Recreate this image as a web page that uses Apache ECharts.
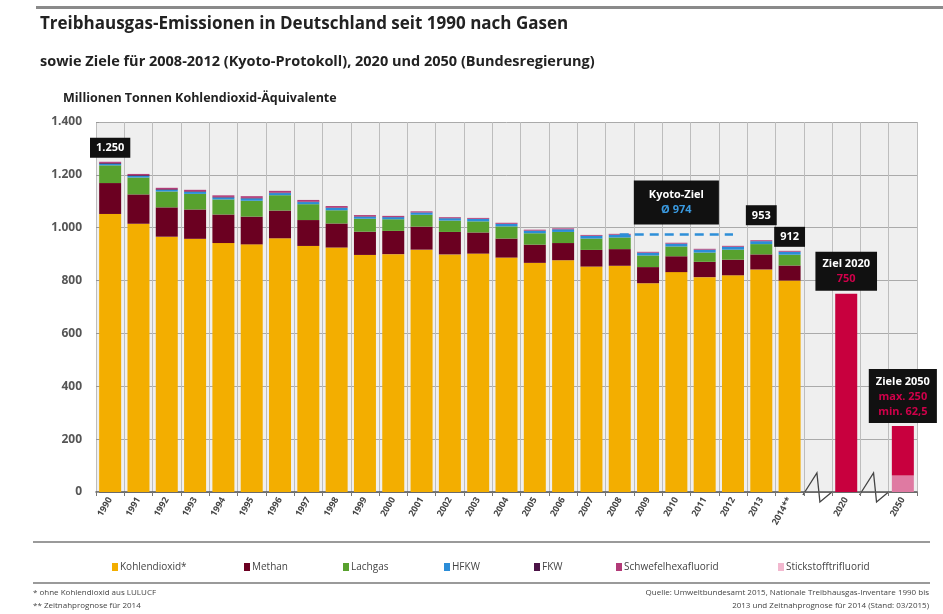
<!DOCTYPE html>
<html>
<head>
<meta charset="utf-8">
<script src="https://cdn.jsdelivr.net/npm/echarts@6/dist/echarts.min.js"></script>
<style>
  html, body { margin: 0; padding: 0; background: #fff; }
  #chart { width: 943px; height: 614px; }
</style>
</head>
<body>
<div id="chart"></div>
<script>
// Jahre (Ist-Werte), danach Lücke + Zieljahre
const years = ['1990', '1991', '1992', '1993', '1994', '1995', '1996', '1997', '1998', '1999',
  '2000', '2001', '2002', '2003', '2004', '2005', '2006', '2007', '2008', '2009',
  '2010', '2011', '2012', '2013', '2014**']
const categories = years.concat(['gap1', '2020', 'gap2', '2050'])

// Mio. t CO2-Äquivalente
const kohlendioxid = [1052, 1015, 966, 958, 942, 937, 960, 931, 925, 897, 900, 917, 899, 902, 887, 867, 877, 853, 856, 790, 832, 813, 820, 842, 800]
const methan = [117, 111, 111, 111, 108, 105, 105, 98, 91, 88, 88, 87, 85, 80, 72, 69, 65, 63, 63, 61, 60, 58, 59, 57, 57]
const lachgas = [67, 64, 60, 59, 57, 60, 58, 60, 50, 49, 44, 45, 43, 42, 46, 43, 42, 43, 44, 44, 37, 35, 38, 39, 41]
const hfkw = [6.0, 6.1, 6.3, 7.6, 7.5, 9.0, 8.0, 8.0, 8.5, 7.5, 7.8, 8.3, 8.6, 9.0, 9.2, 9.5, 9.8, 10.0, 10.2, 10.4, 10.6, 10.7, 10.8, 11.0, 11.0]
const fkw = [3.1, 2.8, 2.6, 2.3, 2.0, 1.8, 1.9, 1.8, 1.9, 1.6, 0.9, 0.8, 0.8, 0.8, 0.8, 0.7, 0.6, 0.6, 0.5, 0.3, 0.3, 0.3, 0.3, 0.2, 0.2]
const schwefelhexafluorid = [4.4, 4.6, 5.1, 5.5, 6.0, 6.5, 6.6, 6.3, 5.6, 4.7, 4.1, 3.8, 3.3, 3.3, 3.7, 3.4, 3.2, 3.1, 3.1, 3.1, 3.2, 3.2, 3.3, 3.4, 3.3]
const stickstofftrifluorid = [0.01, 0.01, 0.01, 0.01, 0.01, 0.01, 0.01, 0.01, 0.01, 0.02, 0.02, 0.02, 0.03, 0.03, 0.04, 0.05, 0.06, 0.07, 0.08, 0.08, 0.08, 0.07, 0.06, 0.06, 0.06]

// Summenlabels über einzelnen Balken
const totalLabels = { 0: '1.250', 23: '953', 24: '912' }

// Ziele
const kyotoZiel = 974
const ziel2020 = 750
const ziel2050Max = 250
const ziel2050Min = 62.5

const yTicks = [0, 200, 400, 600, 800, 1000, 1200, 1400]

const gasColors = ['#f3ae00', '#6b0021', '#58a12e', '#2b8dd8', '#4b1346', '#b23a78', '#f2b8cf']
const gasNames = ['Kohlendioxid*', 'Methan', 'Lachgas', 'HFKW', 'FKW', 'Schwefelhexafluorid', 'Stickstofftrifluorid']
const gasData = [kohlendioxid, methan, lachgas, hfkw, fkw, schwefelhexafluorid, stickstofftrifluorid]
const legendLeft = [107, 239, 338, 439, 529, 611, 773]

const FONT = '"Open Sans", "Liberation Sans", sans-serif'
const chart = echarts.init(document.getElementById('chart'))

function fmtDe(v) {
  if (v >= 1000) return Math.floor(v / 1000) + '.' + String(v % 1000).padStart(3, '0')
  return String(v)
}

const boxLabel = {
  backgroundColor: '#111',
  color: '#fff',
  fontFamily: FONT,
  fontWeight: 'bold',
  fontSize: 11,
  padding: [5, 6, 4, 6]
}

var series = gasNames.map(function (name, i) {
  var data = gasData[i].slice()
  if (i === gasNames.length - 1) {
    data = data.map(function (v, idx) {
      if (totalLabels[idx] === undefined) return v
      return {
        value: v,
        label: Object.assign({
          show: true,
          position: 'top',
          distance: idx === 23 ? 15 : 4,
          formatter: totalLabels[idx]
        }, boxLabel)
      }
    })
  }
  var s = {
    name: name,
    type: 'bar',
    stack: 'all',
    barWidth: 22,
    itemStyle: { color: gasColors[i] },
    data: data
  }
  if (i === 0) {
    s.markLine = {
      silent: true,
      symbol: 'none',
      z: 10,
      lineStyle: { color: '#2e8fd8', type: [9, 6], width: 2.5 },
      label: {
        position: 'insideMiddleTop',
        distance: 10,
        backgroundColor: '#111',
        padding: [7, 15, 7, 15],
        lineHeight: 15,
        formatter: '{a|Kyoto-Ziel}\n{b|Ø ' + kyotoZiel + '}',
        rich: {
          a: { color: '#fff', fontFamily: FONT, fontWeight: 'bold', fontSize: 11, align: 'center' },
          b: { color: '#3a9ae0', fontFamily: FONT, fontWeight: 'bold', fontSize: 11, align: 'center' }
        }
      },
      data: [[{ coord: ['2008', kyotoZiel] }, { coord: ['2012', kyotoZiel] }]]
    }
  }
  return s
})

// Zielbalken (gleicher Stapel, da in den Zieljahren keine Ist-Werte)
series.push({
  name: 'Ziel min',
  type: 'bar',
  stack: 'all',
  barWidth: 22,
  itemStyle: { color: '#df7aa2' },
  data: [['2050', ziel2050Min]]
})
series.push({
  name: 'Ziel',
  type: 'bar',
  stack: 'all',
  barWidth: 22,
  itemStyle: { color: '#c8003e' },
  data: [
    ['2020', ziel2020, 0],
    ['2050', ziel2050Max - ziel2050Min, 1]
  ].map(function (d) {
    var lbl = d[2] === 0
      ? '{w|Ziel 2020}\n{r|' + ziel2020 + '}'
      : '{w|Ziele 2050}\n{r|max. ' + ziel2050Max + '}\n{r|min. ' + String(ziel2050Min).replace('.', ',') + '}'
    return {
      value: [d[0], d[1]],
      label: {
        show: true,
        position: 'top',
        distance: 3,
        backgroundColor: '#111',
        padding: [5, 7, 4, 7],
        lineHeight: 15,
        formatter: lbl,
        rich: {
          w: { color: '#fff', fontFamily: FONT, fontWeight: 'bold', fontSize: 11, align: 'center' },
          r: { color: '#d0004a', fontFamily: FONT, fontWeight: 'bold', fontSize: 11, align: 'center' }
        }
      }
    }
  })
})

chart.setOption({
  animation: false,
  backgroundColor: '#fff',
  title: [
    {
      text: 'Treibhausgas-Emissionen in Deutschland seit 1990 nach Gasen',
      left: 35, top: 11,
      textStyle: { fontFamily: FONT, fontSize: 17, fontWeight: 'bold', color: '#222' }
    },
    {
      text: 'sowie Ziele für 2008-2012 (Kyoto-Protokoll), 2020 und 2050 (Bundesregierung)',
      left: 35, top: 49,
      textStyle: { fontFamily: FONT, fontSize: 14.5, fontWeight: 'bold', color: '#222' }
    },
    {
      text: 'Millionen Tonnen Kohlendioxid-Äquivalente',
      left: 58, top: 87,
      textStyle: { fontFamily: FONT, fontSize: 12.5, fontWeight: 'bold', color: '#222' }
    }
  ],
  legend: gasNames.map(function (name, i) {
    return {
      data: [name],
      left: legendLeft[i],
      top: 557,
      icon: 'rect',
      itemWidth: 6,
      itemHeight: 8,
      selectedMode: false,
      textStyle: { fontFamily: FONT, fontSize: 10, color: '#444', padding: [0, 0, 0, -3] }
    }
  }),
  grid: {
    left: 96, right: 26, top: 122, bottom: 122,
    show: true, backgroundColor: '#efefef', borderWidth: 0
  },
  xAxis: {
    type: 'category',
    data: categories,
    axisLine: { lineStyle: { color: '#555', width: 1.5 } },
    axisTick: { show: true, length: 4, lineStyle: { color: '#777' } },
    splitLine: { show: true, lineStyle: { color: '#bdbdbd', width: 1 } },
    axisLabel: {
      interval: 0,
      rotate: 60,
      margin: 6,
      fontFamily: FONT,
      fontSize: 9,
      fontWeight: 'bold',
      color: '#444',
      formatter: function (v) { return v.indexOf('gap') === 0 ? '' : v }
    }
  },
  yAxis: {
    type: 'value',
    min: yTicks[0],
    max: yTicks[yTicks.length - 1],
    interval: 200,
    axisLine: { show: false },
    axisTick: { show: true, length: 3, inside: true, lineStyle: { color: '#999' } },
    splitLine: { lineStyle: { color: '#aaa', width: 1 } },
    axisLabel: {
      margin: 14,
      fontFamily: FONT,
      fontSize: 12,
      fontWeight: 'bold',
      color: '#555',
      formatter: fmtDe
    }
  },
  series: series
})

// Zierlinien, Fußnoten und Achsenbrüche
var y0 = chart.convertToPixel({ yAxisIndex: 0 }, 0)
var breaks = ['gap1', 'gap2'].map(function (g) {
  var cx = chart.convertToPixel({ xAxisIndex: 0 }, g)
  return {
    type: 'polyline',
    shape: { points: [[cx - 15, y0 + 3], [cx - 1, y0 - 19], [cx + 2, y0 + 10], [cx + 14, y0]] },
    style: { stroke: '#444', fill: null, lineWidth: 1.3 }
  }
})

var footStyle = { fontFamily: FONT, fontSize: 8, fill: '#444' }
chart.setOption({
  graphic: [
    { type: 'rect', shape: { x: 36, y: 6, width: 907, height: 3 }, style: { fill: '#8a8a8a' } },
    { type: 'rect', shape: { x: 33, y: 541, width: 897, height: 2 }, style: { fill: '#9a9a9a' } },
    { type: 'rect', shape: { x: 33, y: 582, width: 897, height: 2 }, style: { fill: '#9a9a9a' } },
    { type: 'text', left: 33, top: 589, style: Object.assign({ text: '* ohne Kohlendioxid aus LULUCF' }, footStyle) },
    { type: 'text', left: 33, top: 602, style: Object.assign({ text: '** Zeitnahprognose für 2014' }, footStyle) },
    { type: 'text', right: 14, top: 589, style: Object.assign({ text: 'Quelle: Umweltbundesamt 2015, Nationale Treibhausgas-Inventare 1990 bis', textAlign: 'right' }, footStyle) },
    { type: 'text', right: 14, top: 602, style: Object.assign({ text: '2013 und Zeitnahprognose für 2014 (Stand: 03/2015)', textAlign: 'right' }, footStyle) }
  ].concat(breaks)
})
</script>
</body>
</html>
